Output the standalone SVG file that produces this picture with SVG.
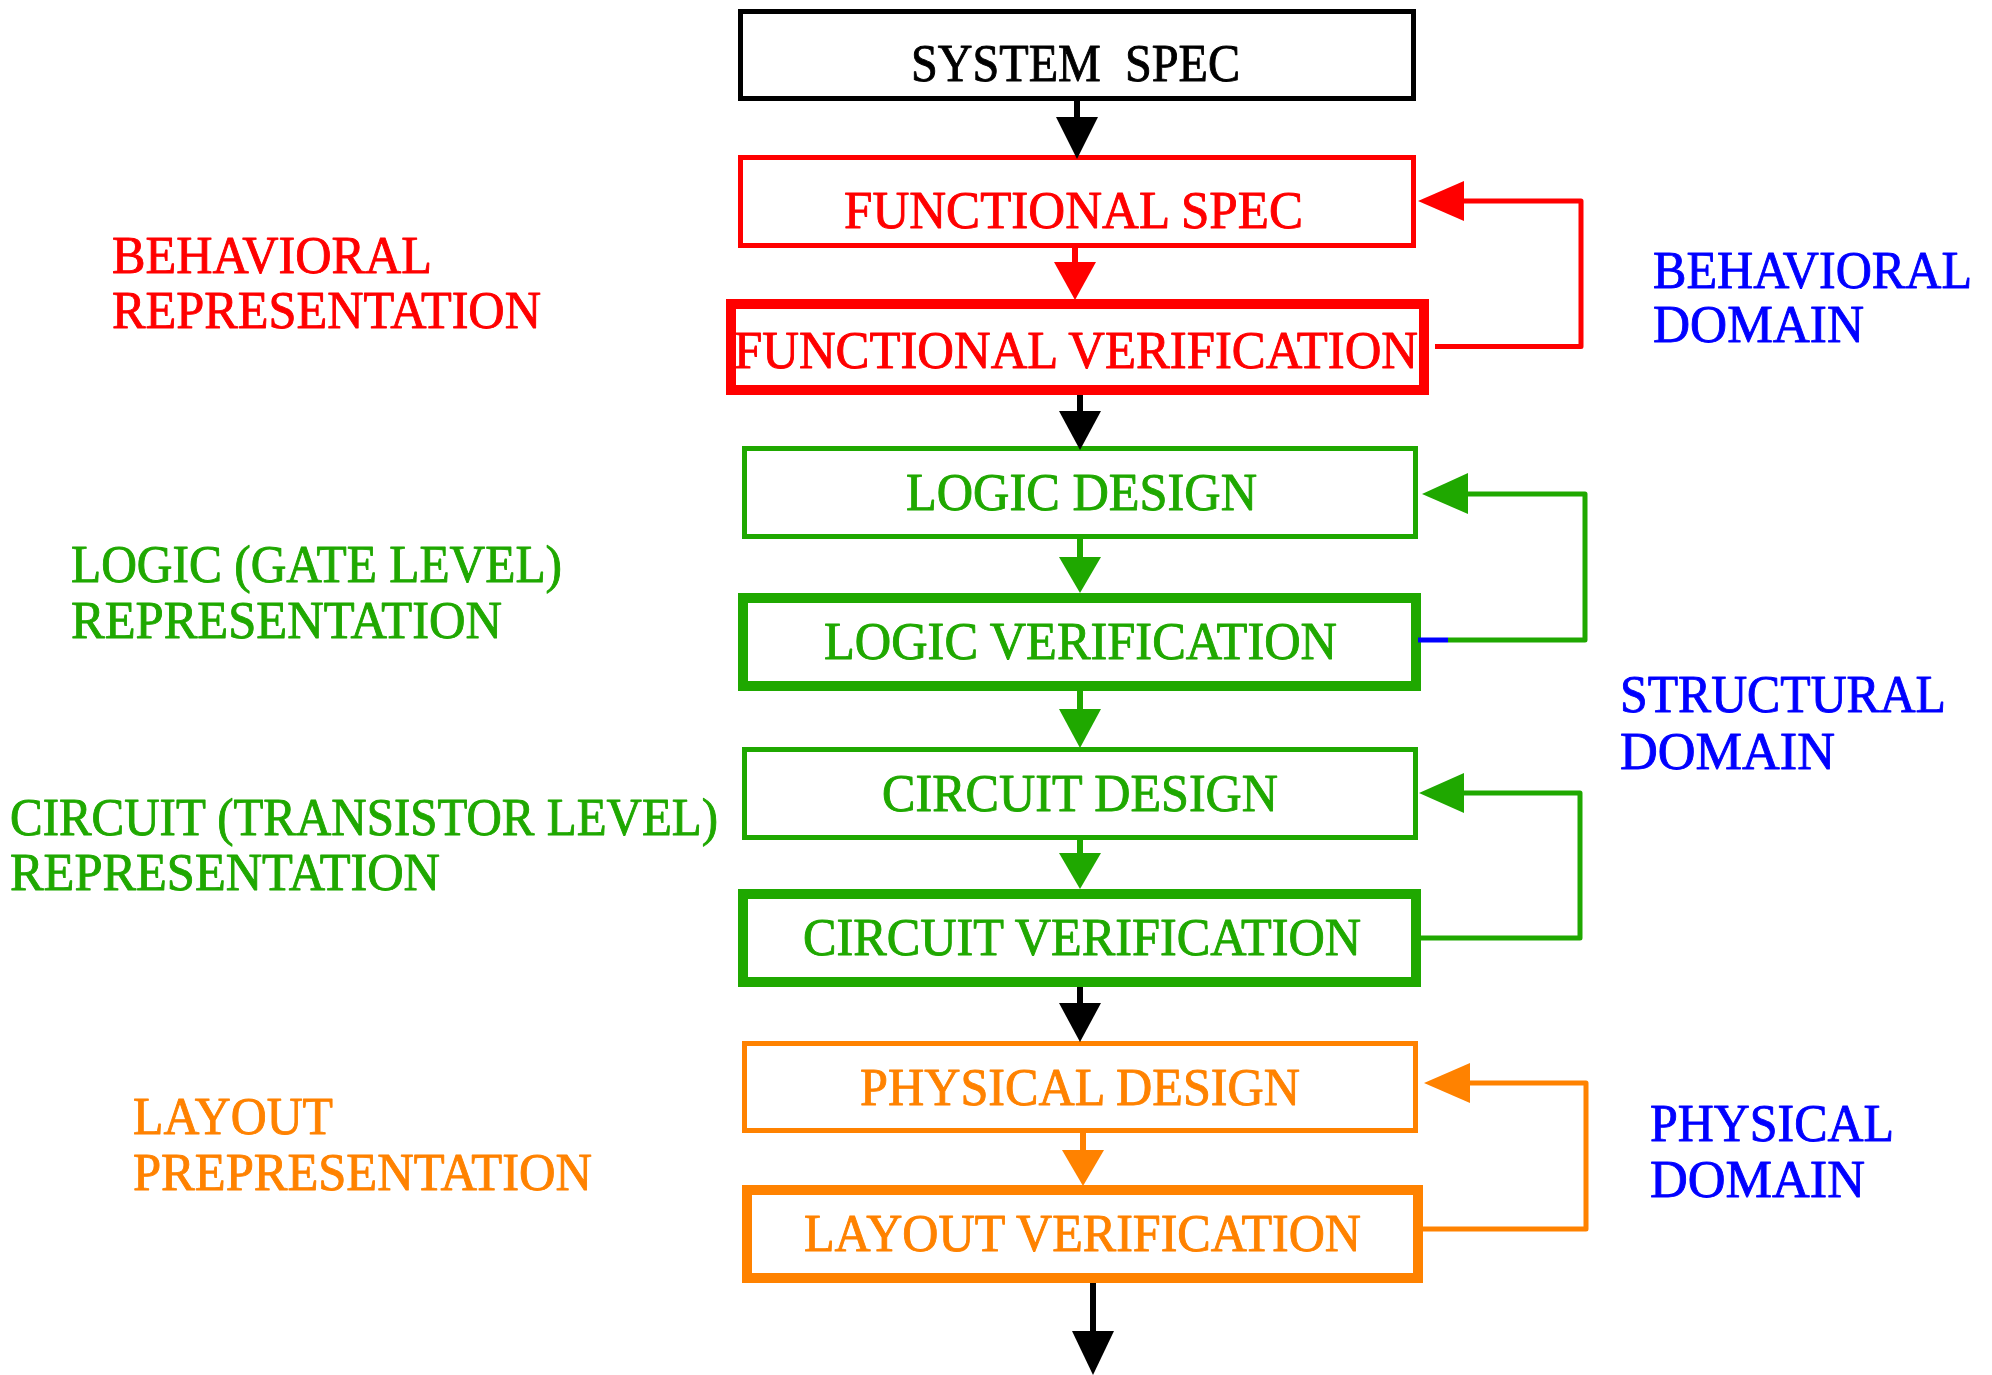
<svg xmlns="http://www.w3.org/2000/svg" width="1992" height="1375" viewBox="0 0 1992 1375">
  <style>
    text { font-family: "Liberation Serif", "Times New Roman", serif; font-size: 52px; stroke-width: 0.9; stroke-linejoin: round; }
    .box { fill: #ffffff; }
    .thin { stroke-width: 5; }
    .thick { stroke-width: 10; }
    .k { stroke: #000000; } .kf { fill: #000000; }
    .r { stroke: #ff0000; } .rf { fill: #ff0000; }
    .g { stroke: #1fa800; } .gf { fill: #1fa800; }
    .o { stroke: #ff8200; } .of { fill: #ff8200; }
    .b { stroke: #0000ff; } .bf { fill: #0000ff; }
    text.kf, .kf text { stroke: #000000; }
    text.rf, .rf text { stroke: #ff0000; }
    text.gf, .gf text { stroke: #1fa800; }
    text.of, .of text { stroke: #ff8200; }
    .bf text { stroke: #0000ff; }
    .wire { fill: none; stroke-width: 6; }
    .loop { fill: none; stroke-width: 5; stroke-linejoin: round; stroke-linecap: butt; }
  </style>

  <!-- flow nodes -->
  <g id="system-spec">
    <rect class="box thin k" x="740.5" y="11.5" width="673" height="87"/>
    <text class="kf" x="911" y="81" textLength="329" lengthAdjust="spacingAndGlyphs" xml:space="preserve">SYSTEM  SPEC</text>
  </g>
  <g id="functional-spec">
    <rect class="box thin r" x="740.5" y="157.5" width="673" height="88"/>
    <text class="rf" x="844" y="228" textLength="459" lengthAdjust="spacingAndGlyphs">FUNCTIONAL SPEC</text>
  </g>
  <g id="functional-verification">
    <rect class="box thick r" x="731" y="304" width="693" height="86"/>
    <text class="rf" x="734" y="368" textLength="684" lengthAdjust="spacingAndGlyphs">FUNCTIONAL VERIFICATION</text>
  </g>
  <g id="logic-design">
    <rect class="box thin g" x="744.5" y="448.5" width="671" height="88"/>
    <text class="gf" x="906" y="510" textLength="351" lengthAdjust="spacingAndGlyphs">LOGIC DESIGN</text>
  </g>
  <g id="logic-verification">
    <rect class="box thick g" x="743" y="598" width="673" height="88"/>
    <text class="gf" x="824" y="659" textLength="513" lengthAdjust="spacingAndGlyphs">LOGIC VERIFICATION</text>
  </g>
  <g id="circuit-design">
    <rect class="box thin g" x="744.5" y="749.5" width="671" height="88"/>
    <text class="gf" x="882" y="811" textLength="396" lengthAdjust="spacingAndGlyphs">CIRCUIT DESIGN</text>
  </g>
  <g id="circuit-verification">
    <rect class="box thick g" x="743" y="894" width="673" height="88"/>
    <text class="gf" x="803" y="955" textLength="558" lengthAdjust="spacingAndGlyphs">CIRCUIT VERIFICATION</text>
  </g>
  <g id="physical-design">
    <rect class="box thin o" x="744.5" y="1043.5" width="671" height="87"/>
    <text class="of" x="860" y="1105" textLength="440" lengthAdjust="spacingAndGlyphs">PHYSICAL DESIGN</text>
  </g>
  <g id="layout-verification">
    <rect class="box thick o" x="747" y="1190" width="671" height="88"/>
    <text class="of" x="804" y="1251" textLength="557" lengthAdjust="spacingAndGlyphs">LAYOUT VERIFICATION</text>
  </g>

  <!-- representation labels (left) -->
  <g id="behavioral-representation" class="rf">
    <text x="112" y="273" textLength="320" lengthAdjust="spacingAndGlyphs">BEHAVIORAL</text>
    <text x="112" y="328" textLength="429" lengthAdjust="spacingAndGlyphs">REPRESENTATION</text>
  </g>
  <g id="logic-representation" class="gf">
    <text x="71" y="582" textLength="491" lengthAdjust="spacingAndGlyphs">LOGIC (GATE LEVEL)</text>
    <text x="71" y="638" textLength="431" lengthAdjust="spacingAndGlyphs">REPRESENTATION</text>
  </g>
  <g id="circuit-representation" class="gf">
    <text x="10" y="835" textLength="708" lengthAdjust="spacingAndGlyphs">CIRCUIT (TRANSISTOR LEVEL)</text>
    <text x="10" y="890" textLength="430" lengthAdjust="spacingAndGlyphs">REPRESENTATION</text>
  </g>
  <g id="layout-representation" class="of">
    <text x="133" y="1134" textLength="200" lengthAdjust="spacingAndGlyphs">LAYOUT</text>
    <text x="133" y="1190" textLength="459" lengthAdjust="spacingAndGlyphs">PREPRESENTATION</text>
  </g>

  <!-- domain labels (right) -->
  <g id="behavioral-domain" class="bf">
    <text x="1653" y="288" textLength="319" lengthAdjust="spacingAndGlyphs">BEHAVIORAL</text>
    <text x="1653" y="342" textLength="211" lengthAdjust="spacingAndGlyphs">DOMAIN</text>
  </g>
  <g id="structural-domain" class="bf">
    <text x="1620" y="712" textLength="326" lengthAdjust="spacingAndGlyphs">STRUCTURAL</text>
    <text x="1620" y="769" textLength="215" lengthAdjust="spacingAndGlyphs">DOMAIN</text>
  </g>
  <g id="physical-domain" class="bf">
    <text x="1650" y="1141" textLength="244" lengthAdjust="spacingAndGlyphs">PHYSICAL</text>
    <text x="1650" y="1197" textLength="215" lengthAdjust="spacingAndGlyphs">DOMAIN</text>
  </g>

  <!-- connectors -->
  <g id="connectors">
    <!-- downward flow -->
    <line class="wire k" x1="1077" y1="101" x2="1077" y2="118"/>
    <polygon class="kf" points="1056,117 1098,117 1077,159"/>
    <line class="wire r" x1="1075" y1="248" x2="1075" y2="263"/>
    <polygon class="rf" points="1054,262 1096,262 1075,300"/>
    <line class="wire k" x1="1080" y1="395" x2="1080" y2="412"/>
    <polygon class="kf" points="1059,411 1101,411 1080,450"/>
    <line class="wire g" x1="1080" y1="539" x2="1080" y2="558"/>
    <polygon class="gf" points="1059,557 1101,557 1080,593"/>
    <line class="wire g" x1="1080" y1="691" x2="1080" y2="710"/>
    <polygon class="gf" points="1059,709 1101,709 1080,748"/>
    <line class="wire g" x1="1080" y1="840" x2="1080" y2="854"/>
    <polygon class="gf" points="1059,853 1101,853 1080,889"/>
    <line class="wire k" x1="1080" y1="987" x2="1080" y2="1004"/>
    <polygon class="kf" points="1059,1003 1101,1003 1080,1042"/>
    <line class="wire o" x1="1083" y1="1133" x2="1083" y2="1151"/>
    <polygon class="of" points="1062,1150 1104,1150 1083,1186"/>
    <line class="wire k" x1="1093" y1="1283" x2="1093" y2="1332"/>
    <polygon class="kf" points="1072,1331 1114,1331 1093,1375"/>

    <!-- verification feedback loops -->
    <polyline class="loop r" points="1435,346.5 1581,346.5 1581,201 1462,201"/>
    <polygon class="rf" points="1418,201 1464,181 1464,221"/>

    <line class="loop b" x1="1418" y1="640" x2="1448" y2="640"/>
    <polyline class="loop g" points="1448,640 1585,640 1585,494 1466,494"/>
    <polygon class="gf" points="1422,494 1468,473 1468,514"/>

    <polyline class="loop g" points="1421,938 1580,938 1580,793 1462,793"/>
    <polygon class="gf" points="1419,793 1464,773 1464,813"/>

    <polyline class="loop o" points="1423,1229 1586,1229 1586,1083 1468,1083"/>
    <polygon class="of" points="1424,1083 1470,1063 1470,1103"/>
  </g>
</svg>
